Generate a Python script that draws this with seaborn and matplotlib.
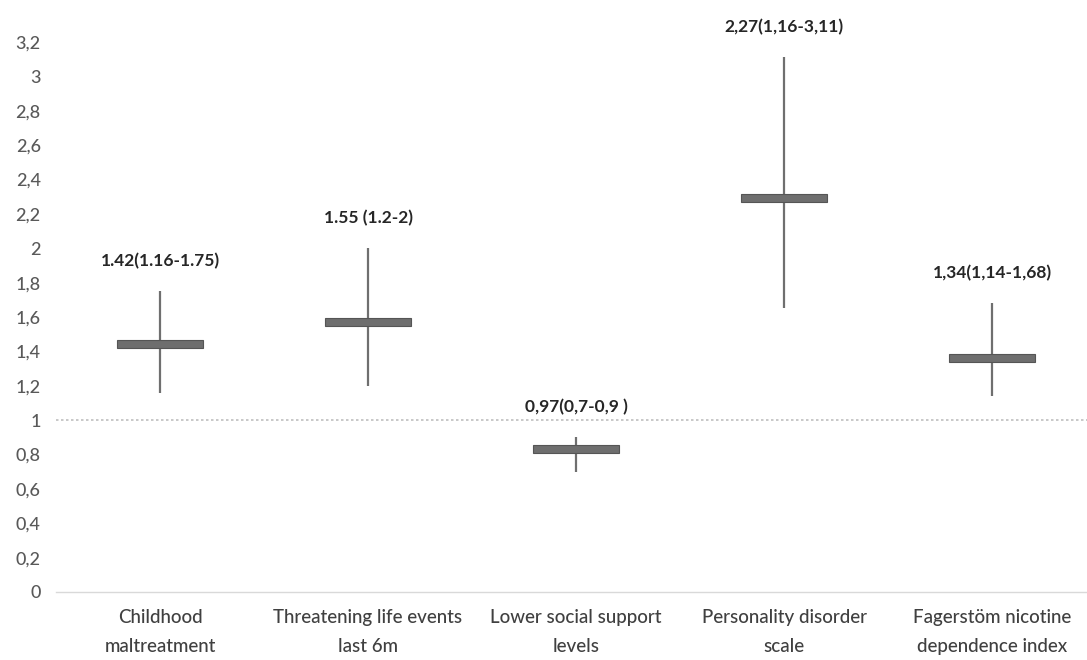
import matplotlib
matplotlib.use("Agg")
import matplotlib.pyplot as plt
import seaborn as sns
import pandas as pd

# Odds ratios with confidence intervals per risk factor
categories = [
    "Childhood\nmaltreatment",
    "Threatening life events\nlast 6m",
    "Lower social support\nlevels",
    "Personality disorder\nscale",
    "Fagerstöm nicotine\ndependence index",
]
estimates = [1.42, 1.55, 0.81, 2.27, 1.34]
ci_low = [1.16, 1.20, 0.70, 1.65, 1.14]
ci_high = [1.75, 2.00, 0.90, 3.11, 1.68]
value_labels = [
    "1.42(1.16-1.75)",
    "1.55 (1.2-2)",
    "0,97(0,7-0,9 )",
    "2,27(1,16-3,11)",
    "1,34(1,14-1,68)",
]
y_ticks = [0, 0.2, 0.4, 0.6, 0.8, 1, 1.2, 1.4, 1.6, 1.8, 2, 2.2, 2.4, 2.6, 2.8, 3, 3.2]
y_tick_labels = ["0", "0,2", "0,4", "0,6", "0,8", "1", "1,2", "1,4", "1,6", "1,8",
                 "2", "2,2", "2,4", "2,6", "2,8", "3", "3,2"]

df = pd.DataFrame({"factor": categories, "est": estimates,
                   "lo": ci_low, "hi": ci_high, "label": value_labels})

sns.set_theme(style="white")
plt.rcParams["font.family"] = ["Lato", "DejaVu Sans"]

fig = plt.figure(figsize=(10.87, 6.6), dpi=100)
ax = fig.add_axes([56 / 1087, 68 / 660, 1031 / 1087, 550 / 660])

pos = list(range(len(df)))

# confidence interval whiskers
ax.vlines(pos, df["lo"], df["hi"], color="#6f6f6f", lw=1.6, zorder=2)

# point-estimate boxes (thin bars starting at the estimate)
sns.barplot(x=df["factor"], y=[0.047] * len(df), bottom=df["est"], width=0.41,
            color="#6e6e6e", edgecolor="#555555", linewidth=0.8,
            saturation=1, ax=ax, zorder=3)

# reference line at OR = 1
ax.axhline(1, color="#bfbfbf", lw=1.2, ls=(0, (1.5, 1.5)), zorder=1)

for i, row in df.iterrows():
    ax.annotate(row["label"], xy=(i, row["hi"]), xytext=(0, 22),
                textcoords="offset points", ha="center", va="center",
                fontsize=12.5, fontweight="bold", color="#262626",
                annotation_clip=False)

ax.set_xlim(-0.5, -0.5 + 1031 / 208)
ax.set_ylim(0, 3.2)
ax.set_yticks(y_ticks)
ax.set_yticklabels(y_tick_labels)
ax.set_xlabel("")
ax.set_ylabel("")
ax.tick_params(axis="y", length=0, pad=11, labelsize=13, labelcolor="#595959")
ax.tick_params(axis="x", length=0, pad=12, labelsize=13.5, labelcolor="#404040")
for t in ax.get_xticklabels():
    t.set_linespacing(1.85)
for t in ax.get_yticklabels() + ax.get_xticklabels():
    t.set_fontweight("medium")

for s in ["left", "right", "top"]:
    ax.spines[s].set_visible(False)
ax.spines["bottom"].set_color("#d9d9d9")
ax.spines["bottom"].set_linewidth(1.0)

fig.savefig("out.png", dpi=100, facecolor="white")
